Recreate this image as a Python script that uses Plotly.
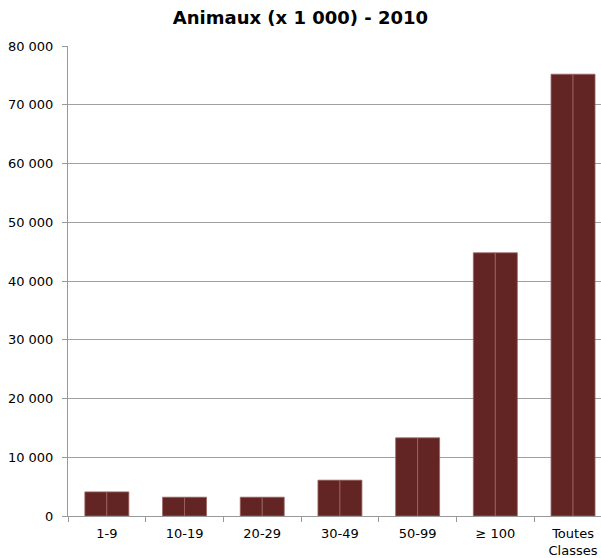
import plotly.graph_objects as go

categories = ["1-9", "10-19", "20-29", "30-49", "50-99", "≥ 100", "Toutes<br>Classes"]
values = [4100, 3200, 3200, 6100, 13300, 44800, 75200]
y_ticks = [0, 10000, 20000, 30000, 40000, 50000, 60000, 70000, 80000]
y_tick_labels = ["0", "10 000", "20 000", "30 000", "40 000", "50 000", "60 000", "70 000", "80 000"]
title_text = "Animaux (x 1 000) - 2010"

bar_color = "#632523"
edge_color = "#9a6563"

fig = go.Figure()
for name in ["a", "b"]:
    fig.add_trace(go.Bar(
        x=categories, y=values, name=name,
        marker=dict(color=bar_color, line=dict(color=edge_color, width=0.8)),
        showlegend=False, hoverinfo="skip",
    ))

font = "DejaVu Sans, Verdana, sans-serif"
fig.update_layout(
    width=601, height=558,
    margin=dict(l=68, r=0, t=46, b=42),
    paper_bgcolor="white", plot_bgcolor="white",
    barmode="group", bargap=0.434, bargroupgap=0,
    font=dict(family=font, size=13, color="#000000"),
    title=dict(text="<b>" + title_text + "</b>", x=0.5, xanchor="center",
               y=1 - 18/558, yanchor="middle",
               font=dict(family=font, size=18, color="#000000")),
    xaxis=dict(
        range=[-0.5, 6.36], showgrid=False, showline=True, linecolor="#999999", linewidth=1,
        ticks="outside", tickson="boundaries", ticklen=5, tickcolor="#999999",
        tickfont=dict(family=font, size=13), ticklabelstandoff=5, fixedrange=True,
    ),
    yaxis=dict(
        range=[0, 80000], tickvals=y_ticks, ticktext=y_tick_labels,
        showgrid=True, gridcolor="#a0a0a0", gridwidth=1,
        showline=True, linecolor="#999999", linewidth=1,
        ticks="outside", ticklen=5, tickcolor="#999999",
        tickfont=dict(family=font, size=13), ticklabelstandoff=6,
        zeroline=False, fixedrange=True,
    ),
)
fig.write_html("out.html", config={"displayModeBar": False},
               post_script="document.body.style.margin='0';document.body.style.overflow='hidden';")
